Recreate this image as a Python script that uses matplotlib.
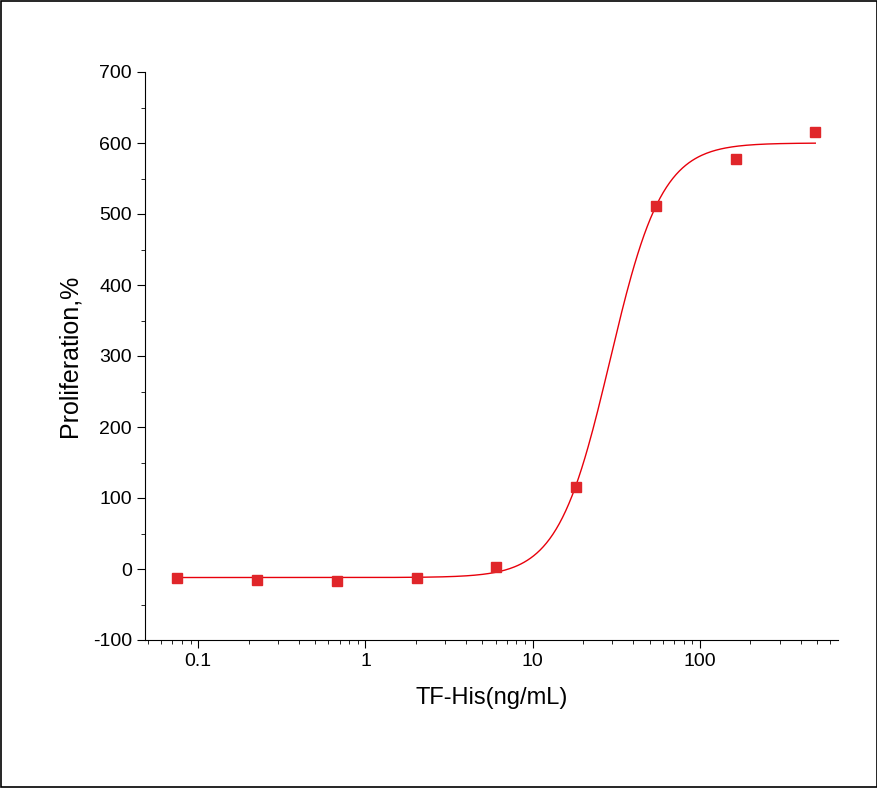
import matplotlib
matplotlib.use("Agg")
import matplotlib.pyplot as plt
import numpy as np
from matplotlib.ticker import LogLocator, MultipleLocator, FuncFormatter

plt.rcParams["font.family"] = "Liberation Sans"
plt.rcParams["axes.unicode_minus"] = False

CONC = [0.0745, 0.224, 0.672, 2.02, 6.05, 18.2, 54.5, 164.0, 490.0]
PROLIF = [-13, -16, -17, -12, 3, 116, 511, 578, 615]
# fitted 4PL parameters (bottom, top, EC50, hill)
FIT = [-12, 600, 29.0, 2.8]

fig = plt.figure(figsize=(8.78, 7.88), dpi=100)
fig.patches.append(plt.Rectangle((0.001, 0.001), 0.998, 0.998, transform=fig.transFigure,
                                 fill=False, edgecolor="black", lw=1.2))
ax = fig.add_axes([145 / 878, 1 - 640 / 788, (838 - 145) / 878, (640 - 72) / 788])

xs = np.logspace(np.log10(CONC[0]), np.log10(CONC[-1]), 400)
bottom, top, ec50, hill = FIT
ax.plot(xs, bottom + (top - bottom) / (1 + (ec50 / xs) ** hill), color="#e8000b", lw=1)
ax.plot(CONC, PROLIF, "s", color="#e0262a", ms=7)

ax.set_xscale("log")
ax.set_xlim(0.048, 670)
ax.set_ylim(-100, 700)
ax.yaxis.set_major_locator(MultipleLocator(100))
ax.yaxis.set_minor_locator(MultipleLocator(50))
ax.xaxis.set_major_locator(LogLocator(base=10))
ax.xaxis.set_minor_locator(LogLocator(base=10, subs=np.arange(2, 10)))
ax.xaxis.set_major_formatter(FuncFormatter(lambda v, p: f"{v:g}"))
for s in ("top", "right"):
    ax.spines[s].set_visible(False)
ax.tick_params(which="both", direction="out", labelsize=14)
ax.tick_params(which="major", length=6)
ax.tick_params(which="minor", length=3)
ax.set_xlabel("TF-His(ng/mL)", fontsize=17, labelpad=12)
ax.set_ylabel("Proliferation,%", fontsize=18, labelpad=8)

fig.savefig("out.png", dpi=100)
